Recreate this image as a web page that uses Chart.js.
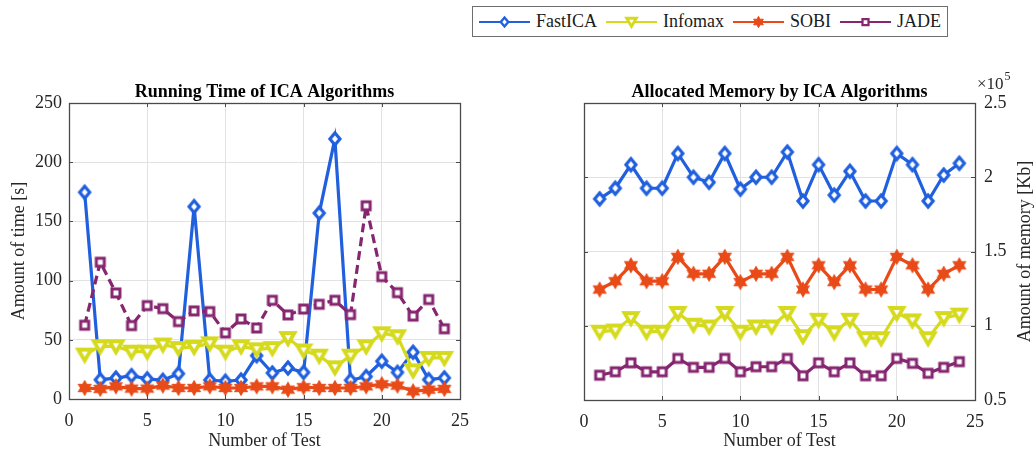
<!DOCTYPE html>
<html>
<head>
<meta charset="utf-8">
<script src="https://cdn.jsdelivr.net/npm/chart.js@4.4.1/dist/chart.umd.min.js"></script>
<style>
  html, body { margin: 0; padding: 0; background: #fff; }
  body { width: 1034px; height: 450px; position: relative; overflow: hidden;
         font-family: 'Liberation Serif', 'Times New Roman', serif; }
  #timeChart { position: absolute; left: 0; top: 0; }
  #memChart { position: absolute; left: 517px; top: 0; }
  #legend { position: absolute; left: 472px; top: 6px; width: 476px; height: 31px;
            border: 1px solid #6e6e6e; box-sizing: border-box; background: #fff;
            display: flex; align-items: center; padding-left: 6px;
            font-size: 18px; color: #1a1a1a; }
  .item { display: flex; align-items: center; margin-right: 9px; }
  .item canvas { margin-right: 6px; }
</style>
</head>
<body>
<canvas id="timeChart" width="517" height="450"></canvas>
<canvas id="memChart" width="517" height="450"></canvas>
<div id="legend"></div>
<script>
// --- Datos ---
const tests = [1, 2, 3, 4, 5, 6, 7, 8, 9, 10, 11, 12, 13, 14, 15, 16, 17, 18, 19, 20, 21, 22, 23, 24];
const algorithms = ['FastICA', 'Infomax', 'SOBI', 'JADE'];

// running time [s]
const timeFastICA = [174.6, 16.3, 17.7, 19.7, 17, 15.8, 21.4, 162.5, 16, 15, 16, 36.6, 22, 26.2, 22.5, 157, 219.7, 15.8, 19, 31.9, 22.5, 39.5, 16.4, 17.8];
const timeInfomax = [37.5, 44.5, 44.5, 40, 40, 46, 43, 44, 47, 40, 44.5, 42, 43, 51.5, 41, 36.6, 26.8, 36.6, 44.5, 55.5, 53, 24.2, 34.7, 34.7];
const timeSOBI = [9.3, 8.5, 10.7, 8.8, 8.8, 11.3, 9.3, 9.3, 10.7, 9.3, 9.3, 10.7, 10.7, 7.9, 10, 9.3, 9.3, 9.3, 10.7, 12.5, 11.3, 6.5, 7.9, 8.5];
const timeJADE = [62.3, 115.5, 89.6, 62, 78.9, 76.3, 65.4, 74.4, 73.8, 55.8, 67.6, 60, 83.4, 71, 76, 80, 83.4, 71.3, 163.2, 103.4, 89.8, 70, 84, 59.3];

// allocated memory [Kb], in units of 1e5
const memFastICA = [1.854, 1.926, 2.085, 1.926, 1.926, 2.16, 2.0, 1.966, 2.16, 1.92, 2.0, 2.0, 2.17, 1.84, 2.085, 1.88, 2.04, 1.84, 1.84, 2.16, 2.085, 1.84, 2.015, 2.094];
const memInfomax = [0.96, 0.968, 1.052, 0.96, 0.96, 1.086, 1.007, 0.995, 1.086, 0.96, 0.995, 0.995, 1.086, 0.93, 1.04, 0.955, 1.04, 0.916, 0.916, 1.086, 1.036, 0.916, 1.052, 1.075];
const memSOBI = [1.244, 1.30, 1.407, 1.30, 1.30, 1.464, 1.35, 1.35, 1.464, 1.294, 1.35, 1.35, 1.464, 1.244, 1.407, 1.294, 1.407, 1.244, 1.244, 1.464, 1.407, 1.244, 1.35, 1.407];
const memJADE = [0.667, 0.69, 0.75, 0.69, 0.69, 0.78, 0.72, 0.72, 0.78, 0.69, 0.724, 0.724, 0.78, 0.663, 0.75, 0.69, 0.75, 0.663, 0.663, 0.78, 0.747, 0.68, 0.72, 0.758];

const xTicks = [0, 5, 10, 15, 20, 25];
const timeTicks = [0, 50, 100, 150, 200, 250];
const memTicks = [0.5, 1, 1.5, 2, 2.5];

// --- Estilos ---
const FONT = "'Liberation Serif', 'Times New Roman', serif";
const colors = { FastICA: 'rgb(32, 96, 222)', Infomax: 'rgb(214, 218, 30)', SOBI: 'rgb(232, 74, 24)', JADE: 'rgb(134, 38, 112)' };
const markers = { FastICA: 'diamond', Infomax: 'tri', SOBI: 'hex', JADE: 'square' };
const axisColor = '#4a4a4a';
const gridColor = '#e2e2e2';
const tickColor = '#262626';
const tickFont = { family: FONT, size: 18 };

Chart.defaults.font.family = FONT;
Chart.defaults.font.size = 18;
Chart.defaults.color = tickColor;

// Marcadores tipo MATLAB dibujados en un canvas pequeño
function drawMarker(ctx, shape, color, cx, cy, s) {
    ctx.save();
    ctx.strokeStyle = color;
    ctx.fillStyle = '#fff';
    ctx.lineJoin = 'miter';
    ctx.beginPath();
    if (shape === 'diamond') {
        ctx.lineWidth = 3.2 * s;
        ctx.moveTo(cx, cy - 6 * s); ctx.lineTo(cx + 5 * s, cy); ctx.lineTo(cx, cy + 6 * s); ctx.lineTo(cx - 5 * s, cy);
        ctx.closePath(); ctx.fill(); ctx.stroke();
    } else if (shape === 'tri') {
        ctx.lineWidth = 3.8 * s;
        ctx.moveTo(cx - 6.5 * s, cy - 5 * s); ctx.lineTo(cx + 6.5 * s, cy - 5 * s); ctx.lineTo(cx, cy + 6 * s);
        ctx.closePath(); ctx.fill(); ctx.stroke();
    } else if (shape === 'hex') {
        ctx.lineWidth = 1;
        ctx.fillStyle = color;
        for (let i = 0; i < 12; i++) {
            const r = (i % 2 === 0 ? 7.5 : 4.2) * s;
            const a = -Math.PI / 2 + i * Math.PI / 6;
            const px = cx + r * Math.cos(a), py = cy + r * Math.sin(a);
            if (i === 0) ctx.moveTo(px, py); else ctx.lineTo(px, py);
        }
        ctx.closePath(); ctx.fill(); ctx.stroke();
    } else if (shape === 'square') {
        ctx.lineWidth = 3 * s;
        ctx.rect(cx - 4 * s, cy - 4 * s, 8 * s, 8 * s);
        ctx.fill(); ctx.stroke();
    }
    ctx.restore();
}

function makeMarker(shape, color) {
    const c = document.createElement('canvas');
    c.width = 20; c.height = 20;
    drawMarker(c.getContext('2d'), shape, color, 10, 10, 1);
    return c;
}

const makeDataset = (label, values, dash) => ({
    label: label,
    data: tests.map((t, i) => ({ x: t, y: values[i] })),
    borderColor: colors[label],
    backgroundColor: colors[label],
    borderWidth: 3.2,
    borderDash: dash || [],
    pointStyle: makeMarker(markers[label], colors[label]),
    pointRadius: 6,
    tension: 0,
});

// Caja completa + marcas de tick hacia adentro (estilo MATLAB)
const framePlugin = {
    id: 'frame',
    afterDraw(chart) {
        const { ctx, chartArea: a } = chart;
        const xs = chart.scales.x, ys = chart.scales.y;
        ctx.save();
        ctx.strokeStyle = axisColor;
        ctx.lineWidth = 1;
        ctx.beginPath();
        const tl = 4;
        xs.ticks.forEach(t => {
            const px = Math.round(xs.getPixelForValue(t.value)) + 0.5;
            ctx.moveTo(px, a.bottom); ctx.lineTo(px, a.bottom - tl);
            ctx.moveTo(px, a.top); ctx.lineTo(px, a.top + tl);
        });
        ys.ticks.forEach(t => {
            const py = Math.round(ys.getPixelForValue(t.value)) + 0.5;
            ctx.moveTo(a.left, py); ctx.lineTo(a.left + tl, py);
            ctx.moveTo(a.right, py); ctx.lineTo(a.right - tl, py);
        });
        ctx.stroke();
        ctx.lineWidth = 1.3;
        ctx.strokeRect(Math.round(a.left) + 0.5, Math.round(a.top) + 0.5, Math.round(a.right - a.left), Math.round(a.bottom - a.top));
        ctx.restore();
    }
};

// Título del eje derecho (de abajo hacia arriba) y multiplicador x10^5
const memExtras = {
    id: 'memExtras',
    afterDraw(chart) {
        const { ctx, chartArea: a } = chart;
        ctx.save();
        ctx.fillStyle = tickColor;
        ctx.font = '18px ' + FONT;
        ctx.translate(508, (a.top + a.bottom) / 2);
        ctx.rotate(-Math.PI / 2);
        ctx.textAlign = 'center';
        ctx.textBaseline = 'middle';
        ctx.fillText('Amount of memory [Kb]', 0, 0);
        ctx.restore();

        ctx.save();
        ctx.fillStyle = tickColor;
        ctx.textAlign = 'left';
        ctx.textBaseline = 'alphabetic';
        ctx.font = '17px ' + FONT;
        ctx.fillText('\u00d710', 460, 89);
        const w = ctx.measureText('\u00d710').width;
        ctx.font = '12px ' + FONT;
        ctx.fillText('5', 460 + w + 1, 80);
        ctx.restore();
    }
};

const xScale = (h) => ({
    type: 'linear', min: 0, max: 25,
    afterBuildTicks: s => { s.ticks = xTicks.map(v => ({ value: v })); },
    afterFit: s => { s.height = h; },
    grid: { color: gridColor, drawTicks: false },
    border: { display: false },
    ticks: { padding: 11, color: tickColor, font: tickFont },
    title: { display: true, text: 'Number of Test', color: tickColor, font: { family: FONT, size: 18, lineHeight: 1 }, padding: { top: 0, bottom: 0 } }
});

const titleOpts = (text) => ({
    display: true, text: text, fullSize: false, color: '#000',
    font: { family: FONT, size: 18, weight: 'bold', lineHeight: 1 },
    padding: { top: 0, bottom: 2 }
});

// --- Gráfico de tiempo ---
new Chart(document.getElementById('timeChart'), {
    type: 'line',
    data: {
        datasets: [
            makeDataset('FastICA', timeFastICA),
            makeDataset('Infomax', timeInfomax),
            makeDataset('SOBI', timeSOBI),
            makeDataset('JADE', timeJADE, [9, 5]),
        ].map((d, i) => Object.assign(d, { order: 4 - i }))
    },
    options: {
        responsive: false, animation: false,
        layout: { padding: { top: 83, left: 0, right: 57, bottom: 0 } },
        scales: {
            x: xScale(51),
            y: {
                type: 'linear', position: 'left', min: 0, max: 250,
                afterBuildTicks: s => { s.ticks = timeTicks.map(v => ({ value: v })); },
                afterFit: s => { s.width = 69; },
                grid: { color: gridColor, drawTicks: false },
                border: { display: false },
                ticks: { padding: 7, color: tickColor, font: tickFont },
                title: { display: true, text: 'Amount of time [s]', color: tickColor, font: { family: FONT, size: 18, lineHeight: 1.2 }, padding: { top: 8, bottom: 0 } }
            }
        },
        plugins: {
            legend: { display: false },
            tooltip: { enabled: false },
            title: titleOpts('Running Time of ICA Algorithms')
        }
    },
    plugins: [framePlugin]
});

// --- Gráfico de memoria ---
new Chart(document.getElementById('memChart'), {
    type: 'line',
    data: {
        datasets: [
            makeDataset('FastICA', memFastICA),
            makeDataset('Infomax', memInfomax),
            makeDataset('SOBI', memSOBI),
            makeDataset('JADE', memJADE),
        ].map((d, i) => Object.assign(d, { order: 4 - i }))
    },
    options: {
        responsive: false, animation: false,
        layout: { padding: { top: 83, left: 67, right: 0, bottom: 0 } },
        scales: {
            x: xScale(50),
            y: {
                type: 'linear', position: 'right', min: 0.5, max: 2.5,
                afterBuildTicks: s => { s.ticks = memTicks.map(v => ({ value: v })); },
                afterFit: s => { s.width = 59; },
                grid: { color: gridColor, drawTicks: false },
                border: { display: false },
                ticks: { padding: 9, color: tickColor, font: tickFont, callback: v => String(v) }
            }
        },
        plugins: {
            legend: { display: false },
            tooltip: { enabled: false },
            title: titleOpts('Allocated Memory by ICA Algorithms')
        }
    },
    plugins: [framePlugin, memExtras]
});

// --- Leyenda compartida ---
const legendEl = document.getElementById('legend');
algorithms.forEach(name => {
    const item = document.createElement('div');
    item.className = 'item';
    const icon = document.createElement('canvas');
    icon.width = 51; icon.height = 20;
    const ictx = icon.getContext('2d');
    ictx.strokeStyle = colors[name];
    ictx.lineWidth = 2;
    ictx.beginPath(); ictx.moveTo(0, 10); ictx.lineTo(51, 10); ictx.stroke();
    drawMarker(ictx, markers[name], colors[name], 25.5, 10, 0.75);
    const label = document.createElement('span');
    label.textContent = name;
    item.appendChild(icon);
    item.appendChild(label);
    legendEl.appendChild(item);
});
</script>
</body>
</html>
